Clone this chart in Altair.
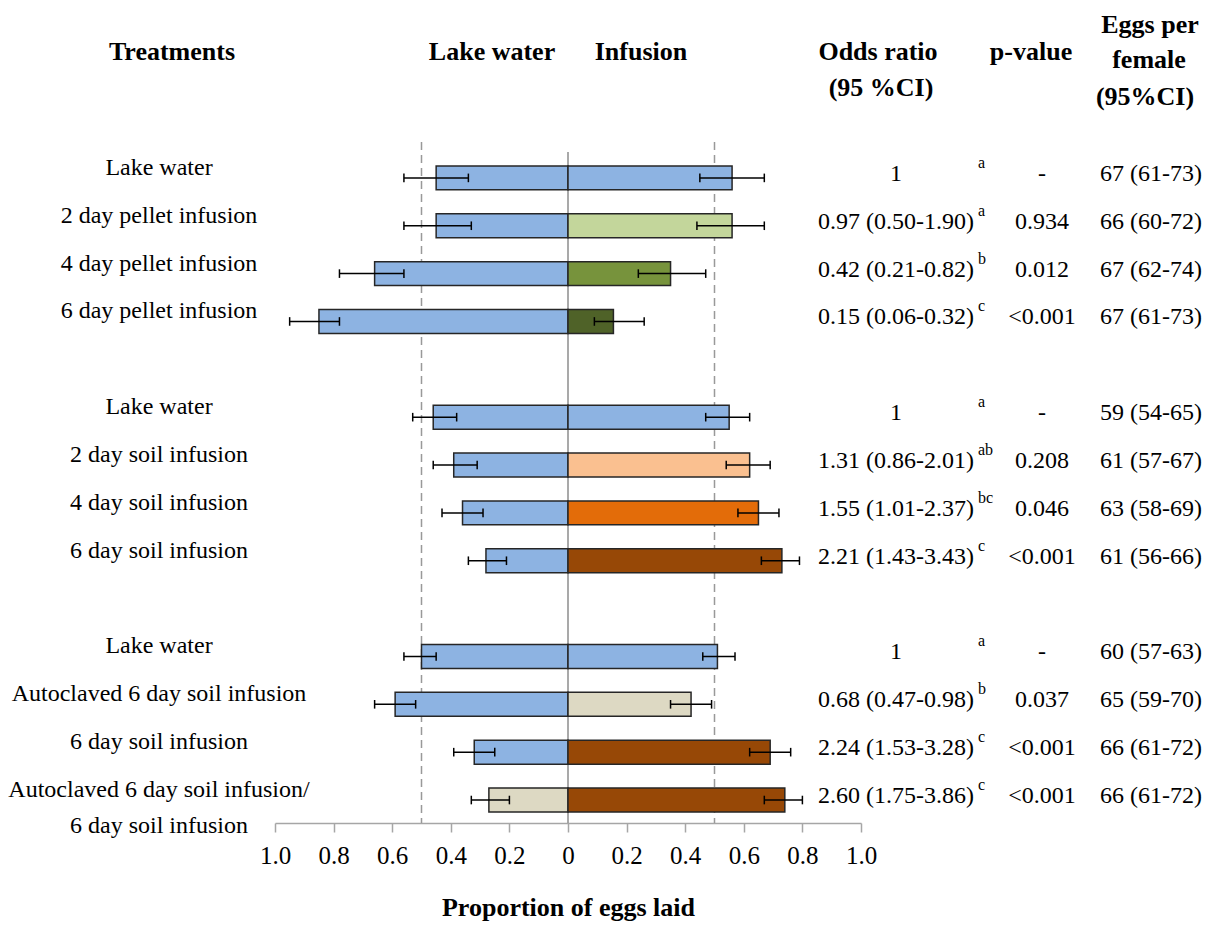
import altair as alt
import pandas as pd

# ---------------- data ----------------
treatments = ["Lake water", "2 day pellet infusion", "4 day pellet infusion", "6 day pellet infusion",
              "Lake water", "2 day soil infusion", "4 day soil infusion", "6 day soil infusion",
              "Lake water", "Autoclaved 6 day soil infusion", "6 day soil infusion",
              "Autoclaved 6 day soil infusion/"]
row_pos = [0, 1, 2, 3, 5, 6, 7, 8, 10, 11, 12, 13]

left_prop = [0.45, 0.45, 0.66, 0.85, 0.46, 0.39, 0.36, 0.28, 0.50, 0.59, 0.32, 0.27]
left_lo = [0.34, 0.33, 0.56, 0.78, 0.38, 0.31, 0.29, 0.21, 0.45, 0.52, 0.25, 0.20]
left_hi = [0.56, 0.56, 0.78, 0.95, 0.53, 0.46, 0.43, 0.34, 0.56, 0.66, 0.39, 0.33]
right_prop = [0.56, 0.56, 0.35, 0.155, 0.55, 0.62, 0.65, 0.73, 0.51, 0.42, 0.69, 0.74]
right_lo = [0.45, 0.44, 0.24, 0.09, 0.47, 0.54, 0.58, 0.66, 0.46, 0.35, 0.62, 0.67]
right_hi = [0.67, 0.67, 0.47, 0.26, 0.62, 0.69, 0.72, 0.79, 0.57, 0.49, 0.76, 0.80]

left_fill = ["#8DB3E2"] * 11 + ["#DDD9C3"]
right_fill = ["#8DB3E2", "#C3D69B", "#77933C", "#4F6228",
              "#8DB3E2", "#FAC090", "#E36C09", "#974806",
              "#8DB3E2", "#DDD9C3", "#974806", "#974806"]

odds_text = ["1", "0.97 (0.50-1.90)", "0.42 (0.21-0.82)", "0.15 (0.06-0.32)",
             "1", "1.31 (0.86-2.01)", "1.55 (1.01-2.37)", "2.21 (1.43-3.43)",
             "1", "0.68 (0.47-0.98)", "2.24 (1.53-3.28)", "2.60 (1.75-3.86)"]
odds_sup = ["a", "a", "b", "c", "a", "ab", "bc", "c", "a", "b", "c", "c"]
p_text = ["-", "0.934", "0.012", "<0.001", "-", "0.208", "0.046", "<0.001",
          "-", "0.037", "<0.001", "<0.001"]
eggs_text = ["67 (61-73)", "66 (60-72)", "67 (62-74)", "67 (61-73)",
             "59 (54-65)", "61 (57-67)", "63 (58-69)", "61 (56-66)",
             "60 (57-63)", "65 (59-70)", "66 (61-72)", "66 (61-72)"]
extra_label = "6 day soil infusion"

x_ticks = [-1.0, -0.8, -0.6, -0.4, -0.2, 0.0, 0.2, 0.4, 0.6, 0.8, 1.0]
ref_lines = [-0.5, 0.5]

# ---------------- frames ----------------
df = pd.DataFrame({
    "treat": treatments, "pos": row_pos,
    "lp": left_prop, "llo": left_lo, "lhi": left_hi,
    "rp": right_prop, "rlo": right_lo, "rhi": right_hi,
    "lfill": left_fill, "rfill": right_fill,
    "odds": odds_text, "sup": odds_sup, "p": p_text, "eggs": eggs_text,
})

FONT = "Liberation Serif"
W, H = 1209, 815
x_scale = alt.Scale(domain=[-1, 1], range=[267, 853], nice=False, zero=False)
y_scale = alt.Scale(domain=[-0.75, 13.48], range=[134, 815], nice=False, zero=False)

base = alt.Chart(df)

# axis carrier (invisible points, draws the x axis)
axis_layer = alt.Chart(pd.DataFrame({"v": x_ticks})).mark_point(opacity=0).encode(
    x=alt.X("v:Q", scale=x_scale,
            axis=alt.Axis(values=x_ticks, title="Proportion of eggs laid",
                          labelExpr="datum.value == 0 ? '0' : format(abs(datum.value), '.1f')",
                          grid=False, domainColor="#A6A6A6", domainWidth=1.5,
                          tickColor="#A6A6A6", tickWidth=1.5, tickSize=9,
                          labelFont=FONT, labelFontSize=25, labelColor="#000000",
                          labelPadding=11, labelFlush=False, labelOverlap=False,
                          titleFont=FONT, titleFontSize=26, titleFontWeight="bold",
                          titleColor="#000000", titlePadding=26)),
    y=alt.value(400),
)

# dashed reference lines
dash_layer = alt.Chart(pd.DataFrame({"v": ref_lines})).mark_rule(
    color="#999999", strokeWidth=1.5, strokeDash=[8, 5]).encode(
    x=alt.X("v:Q", scale=x_scale), y=alt.value(134), y2=alt.value(815))

# centre line
center_layer = alt.Chart(pd.DataFrame({"v": [0.0]})).mark_rule(
    color="#8C8C8C", strokeWidth=1.5).encode(
    x=alt.X("v:Q", scale=x_scale), y=alt.value(144), y2=alt.value(815))

# bars
left_bars = base.transform_calculate(
    x0="-datum.lp", y0="datum.pos - 0.25", y1="datum.pos + 0.25", zero="0"
).mark_rect(stroke="#262626", strokeWidth=1.5).encode(
    x=alt.X("x0:Q", scale=x_scale), x2="zero:Q",
    y=alt.Y("y0:Q", scale=y_scale, axis=None), y2="y1:Q",
    fill=alt.Fill("lfill:N", scale=None))

right_bars = base.transform_calculate(
    x0="0", y0="datum.pos - 0.25", y1="datum.pos + 0.25"
).mark_rect(stroke="#262626", strokeWidth=1.5).encode(
    x=alt.X("x0:Q", scale=x_scale), x2="rp:Q",
    y=alt.Y("y0:Q", scale=y_scale, axis=None), y2="y1:Q",
    fill=alt.Fill("rfill:N", scale=None))

# error bars
def err_layers(lo, hi, sign):
    e = base.transform_calculate(
        a=f"{sign} * datum.{lo}", b=f"{sign} * datum.{hi}")
    line = e.mark_rule(color="#000000", strokeWidth=1.5).encode(
        x=alt.X("a:Q", scale=x_scale), x2="b:Q",
        y=alt.Y("pos:Q", scale=y_scale, axis=None))
    caps = []
    for f in ("a", "b"):
        caps.append(e.transform_calculate(c0="datum.pos - 0.09", c1="datum.pos + 0.09")
                    .mark_rule(color="#000000", strokeWidth=1.5).encode(
            x=alt.X(f"{f}:Q", scale=x_scale),
            y=alt.Y("c0:Q", scale=y_scale, axis=None), y2="c1:Q"))
    return [line] + caps

err = err_layers("llo", "lhi", -1) + err_layers("rlo", "rhi", 1)

# texts next to bars
def col_text(field, xpx, align="center", dy=-4, size=24):
    return base.mark_text(font=FONT, fontSize=size, align=align, baseline="middle",
                          dy=dy, color="#000000").encode(
        x=alt.value(xpx), y=alt.Y("pos:Q", scale=y_scale, axis=None),
        text=f"{field}:N")

labels = col_text("treat", 151, dy=-10)
extra = alt.Chart(pd.DataFrame({"t": [extra_label], "pos": [13]})).mark_text(
    font=FONT, fontSize=24, align="center", baseline="middle", dy=26, color="#000000").encode(
    x=alt.value(151), y=alt.Y("pos:Q", scale=y_scale, axis=None), text="t:N")
odds = col_text("odds", 888)
sup = col_text("sup", 970, align="left", dy=-15, size=16)
pval = col_text("p", 1034)
eggs = col_text("eggs", 1143)

# headers
def header(t, xpx, ypx):
    return alt.Chart(pd.DataFrame({"t": [t]})).mark_text(
        font=FONT, fontSize=26, fontWeight="bold", align="center", baseline="middle",
        color="#000000").encode(x=alt.value(xpx), y=alt.value(ypx), text="t:N")

headers = [
    header("Treatments", 164, 44),
    header("Lake  water", 484, 44),
    header("Infusion", 633, 44),
    header("Odds ratio", 870, 44),
    header("(95 %CI)", 873, 80),
    header("p-value", 1023, 44),
    header("Eggs per", 1142, 17),
    header("female", 1141, 52),
    header("(95%CI)", 1137, 89),
]

chart = alt.layer(
    axis_layer, dash_layer, center_layer, left_bars, right_bars, *err,
    labels, extra, odds, sup, pval, eggs, *headers
).properties(
    width=W, height=H,
    background="white",
    autosize=alt.AutoSizeParams(type="none"),
    padding={"left": 0, "top": 0, "right": 0, "bottom": 98},
).configure_view(strokeWidth=0, stroke="transparent")

chart.save("out.html", embed_options={"renderer": "svg", "actions": False})
